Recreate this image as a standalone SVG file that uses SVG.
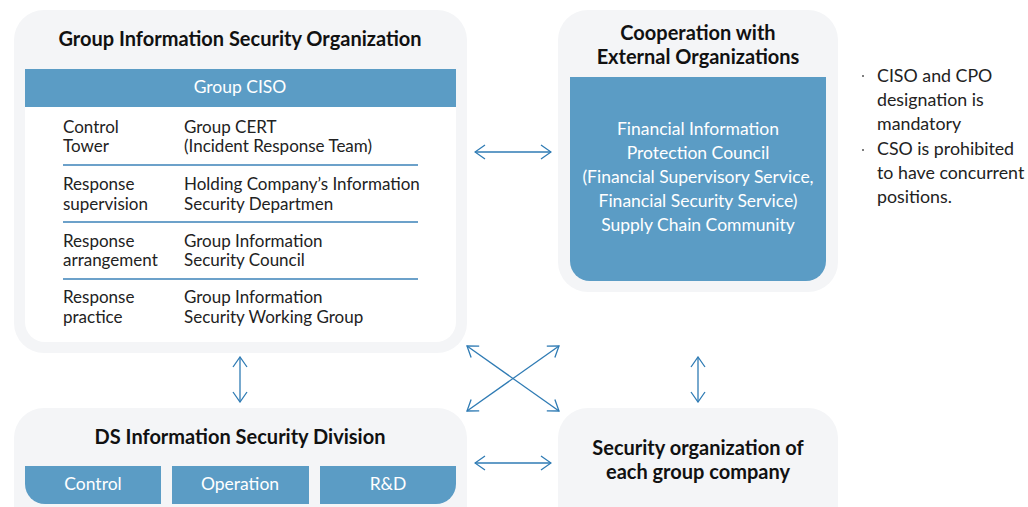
<svg xmlns="http://www.w3.org/2000/svg" width="1028" height="507" viewBox="0 0 1028 507">
<defs>
<style>
.card{fill:#f4f5f7}
.blue{fill:#5b9cc5}
.title{font-family:Lato,"Liberation Sans",sans-serif;font-weight:bold;font-size:20px;fill:#111;text-anchor:middle}
.body{font-family:Lato,"Liberation Sans",sans-serif;font-size:17px;fill:#222}
.note{font-family:Lato,"Liberation Sans",sans-serif;font-size:17.8px;fill:#222}
.wt{font-family:Lato,"Liberation Sans",sans-serif;font-size:17.5px;fill:#fff;text-anchor:middle}
.sep{stroke:#3b82b8;stroke-width:1.5}
.conn{stroke:#2f7bb4;stroke-width:1.3;fill:none;marker-start:url(#ah);marker-end:url(#ah)}
</style>
<marker id="ah" viewBox="0 0 12 16" refX="11" refY="8" markerWidth="12" markerHeight="16" markerUnits="userSpaceOnUse" orient="auto-start-reverse">
<path d="M1,1 L11,8 L1,15" fill="none" stroke="#2f7bb4" stroke-width="1.3"/>
</marker>
</defs>
<rect width="1028" height="507" fill="#fff"/>

<g id="group-org">
<rect class="card" x="14" y="10" width="453" height="343" rx="30"/>
<path d="M25,107 H456 V322 A20,20 0 0 1 436,342 H45 A20,20 0 0 1 25,322 Z" fill="#fff"/>
<rect class="blue" x="25" y="69" width="431" height="38"/>
<text class="title" x="240" y="46">Group Information Security Organization</text>
<text class="wt" x="240" y="93">Group CISO</text>
<text class="body" x="63" y="133">Control</text>
<text class="body" x="63" y="152">Tower</text>
<text class="body" x="184" y="133">Group CERT</text>
<text class="body" x="184" y="152">(Incident Response Team)</text>
<line class="sep" x1="63" y1="165" x2="418" y2="165"/>
<text class="body" x="63" y="190">Response</text>
<text class="body" x="63" y="210">supervision</text>
<text class="body" x="184" y="190">Holding Company’s Information</text>
<text class="body" x="184" y="210">Security Departmen</text>
<line class="sep" x1="63" y1="222" x2="418" y2="222"/>
<text class="body" x="63" y="247">Response</text>
<text class="body" x="63" y="266">arrangement</text>
<text class="body" x="184" y="247">Group Information</text>
<text class="body" x="184" y="266">Security Council</text>
<line class="sep" x1="63" y1="279" x2="418" y2="279"/>
<text class="body" x="63" y="303">Response</text>
<text class="body" x="63" y="323">practice</text>
<text class="body" x="184" y="303">Group Information</text>
<text class="body" x="184" y="323">Security Working Group</text>
</g>

<g id="cooperation">
<rect class="card" x="558" y="10" width="280" height="282" rx="30"/>
<path d="M570,77 H826 V261 A20,20 0 0 1 806,281 H590 A20,20 0 0 1 570,261 Z" class="blue"/>
<text class="title" x="698" y="40">Cooperation with</text>
<text class="title" x="698" y="64">External Organizations</text>
<text class="wt" x="698" y="135">Financial Information</text>
<text class="wt" x="698" y="159">Protection Council</text>
<text class="wt" x="698" y="183">(Financial Supervisory Service,</text>
<text class="wt" x="698" y="207">Financial Security Service)</text>
<text class="wt" x="698" y="231">Supply Chain Community</text>
</g>

<g id="notes">
<circle cx="863" cy="76" r="1" fill="#555"/>
<circle cx="863" cy="150" r="1" fill="#555"/>
<text class="note" x="877" y="82">CISO and CPO</text>
<text class="note" x="877" y="106">designation is</text>
<text class="note" x="877" y="130">mandatory</text>
<text class="note" x="877" y="155">CSO is prohibited</text>
<text class="note" x="877" y="179">to have concurrent</text>
<text class="note" x="877" y="203">positions.</text>
</g>

<g id="ds-division">
<rect class="card" x="14" y="408" width="453" height="130" rx="30"/>
<text class="title" x="240" y="444">DS Information Security Division</text>
<path d="M25,466 H161 V504 H45 A20,20 0 0 1 25,484 Z" class="blue"/>
<rect class="blue" x="172" y="466" width="137" height="38"/>
<path d="M320,466 H456 V484 A20,20 0 0 1 436,504 H320 Z" class="blue"/>
<text class="wt" x="93" y="490">Control</text>
<text class="wt" x="240" y="490">Operation</text>
<text class="wt" x="388" y="490">R&amp;D</text>
</g>

<g id="group-companies">
<rect class="card" x="558" y="408" width="280" height="130" rx="30"/>
<text class="title" x="698" y="455">Security organization of</text>
<text class="title" x="698" y="479">each group company</text>
</g>

<g id="connectors">
<line class="conn" x1="475" y1="152" x2="551" y2="152"/>
<line class="conn" x1="240" y1="357" x2="240" y2="402"/>
<line class="conn" x1="467" y1="346" x2="559" y2="411"/>
<line class="conn" x1="559" y1="346" x2="467" y2="411"/>
<line class="conn" x1="698" y1="357" x2="698" y2="402"/>
<line class="conn" x1="475" y1="463" x2="551" y2="463"/>
</g>
</svg>
